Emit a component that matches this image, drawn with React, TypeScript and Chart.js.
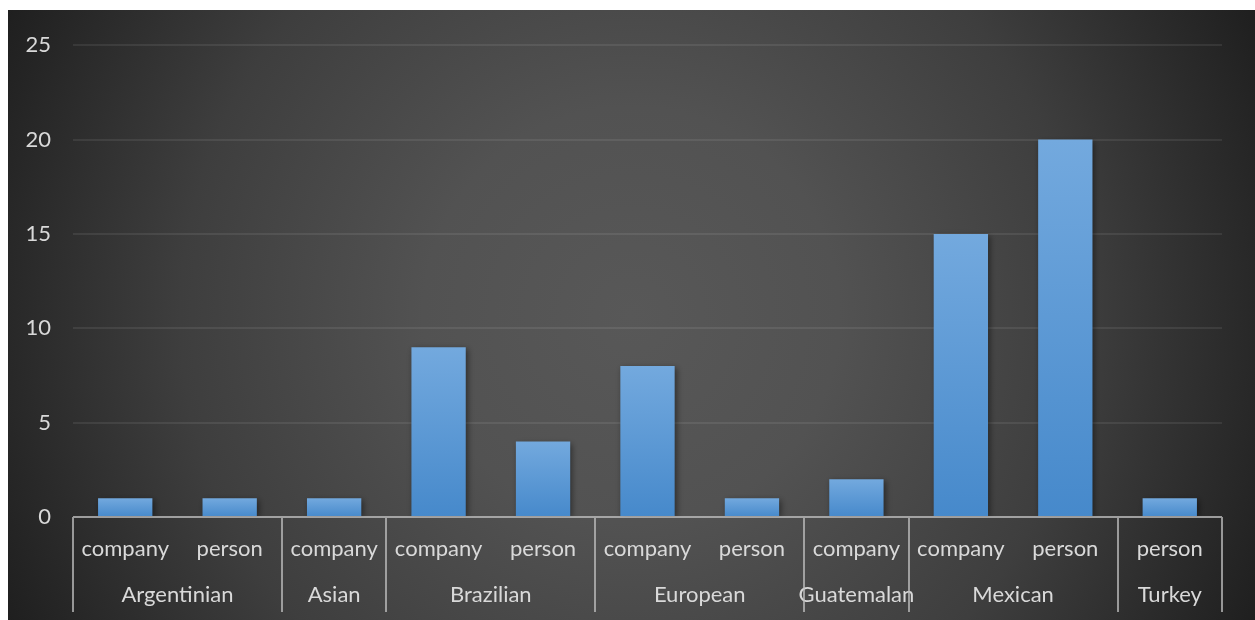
import React, { useEffect, useRef } from "react";
import { Chart, registerables } from "chart.js";

Chart.register(...registerables);

const groups = ["Argentinian", "Asian", "Brazilian", "European", "Guatemalan", "Mexican", "Turkey"];
const groupSizes = [2, 1, 2, 2, 1, 2, 1];
const subLabels = ["company", "person", "company", "company", "person", "company", "person", "company", "company", "person", "person"];
const counts = [1, 1, 1, 9, 4, 8, 1, 2, 15, 20, 1];
const yMax = 25;
const yStep = 5;

const TEXT = "#d9d9d9";
const FONT = "Lato";

export default function App() {
  const ref = useRef<HTMLCanvasElement | null>(null);

  useEffect(() => {
    if (!ref.current) return;
    const starts: number[] = [];
    let acc = 0;
    groupSizes.forEach((s) => { starts.push(acc); acc += s; });
    const centers = groupSizes.map((s, i) => starts[i] + (s - 1) / 2);

    const bgPlugin = {
      id: "bg",
      beforeDraw(chart: any) {
        const { ctx, width, height } = chart;
        const cx = width * 0.5, cy = height * 0.5;
        const g = ctx.createRadialGradient(cx, cy, 0, cx, cy, Math.hypot(width, height) / 2);
        g.addColorStop(0, "#585858");
        g.addColorStop(0.3, "#525252");
        g.addColorStop(0.65, "#3e3e3e");
        g.addColorStop(1, "#1f1f1f");
        ctx.save();
        ctx.fillStyle = g;
        ctx.fillRect(0, 0, width, height);
        ctx.restore();
      },
    };

    const shadowPlugin = {
      id: "shadow",
      beforeDatasetsDraw(chart: any) {
        const ctx = chart.ctx;
        ctx.save();
        ctx.shadowColor = "rgba(0,0,0,0.45)";
        ctx.shadowBlur = 6;
        ctx.shadowOffsetX = 2;
        ctx.shadowOffsetY = 2;
      },
      afterDatasetsDraw(chart: any) {
        chart.ctx.restore();
        const ctx = chart.ctx;
        const x = chart.scales.x;
        const x2 = chart.scales.x2;
        const ca = chart.chartArea;
        ctx.save();
        ctx.strokeStyle = "rgba(190,190,190,0.75)";
        ctx.lineWidth = 2;
        ctx.beginPath();
        ctx.moveTo(ca.left, ca.bottom);
        ctx.lineTo(ca.right, ca.bottom);
        const bounds: number[] = [ca.left];
        for (let i = 1; i < groupSizes.length; i++) {
          const idx = starts[i];
          bounds.push((x.getPixelForValue(idx - 1) + x.getPixelForValue(idx)) / 2);
        }
        bounds.push(ca.right);
        bounds.forEach((bx) => {
          const px = Math.round(bx);
          ctx.moveTo(px, ca.bottom);
          ctx.lineTo(px, x2.bottom);
        });
        ctx.stroke();
        ctx.restore();
      },
    };

    const chart = new Chart(ref.current, {
      type: "bar",
      data: {
        labels: subLabels,
        datasets: [
          {
            data: counts,
            barPercentage: 0.52,
            categoryPercentage: 1,
            backgroundColor: (c: any) => {
              const chart = c.chart;
              if (!chart.chartArea) return "#5b9bd5";
              const y = chart.scales.y;
              const v = c.raw as number;
              const top = y.getPixelForValue(v);
              const base = y.getPixelForValue(0);
              const g = chart.ctx.createLinearGradient(0, top, 0, base);
              g.addColorStop(0, "#73a9de");
              g.addColorStop(1, "#4689cb");
              return g;
            },
            borderWidth: 0,
          },
        ],
      },
      options: {
        animation: false,
        responsive: false,
        maintainAspectRatio: false,
        layout: { padding: { top: 35, right: 33, bottom: 8, left: 0 } },
        plugins: { legend: { display: false }, tooltip: { enabled: false } },
        scales: {
          y: {
            min: 0,
            max: yMax,
            ticks: { stepSize: yStep, color: TEXT, font: { family: FONT, size: 22 }, padding: 22 },
            grid: { color: "rgba(255,255,255,0.08)", lineWidth: 2, drawTicks: false },
            border: { display: false },
            afterFit: (s: any) => { s.width = 65; },
          },
          x: {
            position: "bottom",
            ticks: { color: TEXT, font: { family: FONT, size: 22 }, padding: 19, autoSkip: false, maxRotation: 0 },
            grid: { display: false, drawTicks: false },
            border: { display: false },
            afterFit: (s: any) => { s.height = 55; },
          },
          x2: {
            type: "linear",
            position: "bottom",
            offset: false,
            bounds: "data",
            min: -0.5,
            max: subLabels.length - 0.5,
            afterBuildTicks: (s: any) => { s.ticks = centers.map((v) => ({ value: v })); },
            ticks: {
              color: TEXT,
              font: { family: FONT, size: 22 },
              padding: 10,
              autoSkip: false,
              maxRotation: 0,
              callback: (_v: any, i: number) => groups[i],
            },
            grid: { display: false, drawTicks: false, offset: false },
            border: { display: false },
            afterFit: (s: any) => { s.height = 40; },
          },
        },
      },
      plugins: [bgPlugin, shadowPlugin],
    });
    return () => chart.destroy();
  }, []);

  return (
    <div style={{ position: "absolute", left: 8, top: 10, width: 1247, height: 610 }}>
      <canvas ref={ref} width={1247} height={610} style={{ display: "block" }} />
    </div>
  );
}
